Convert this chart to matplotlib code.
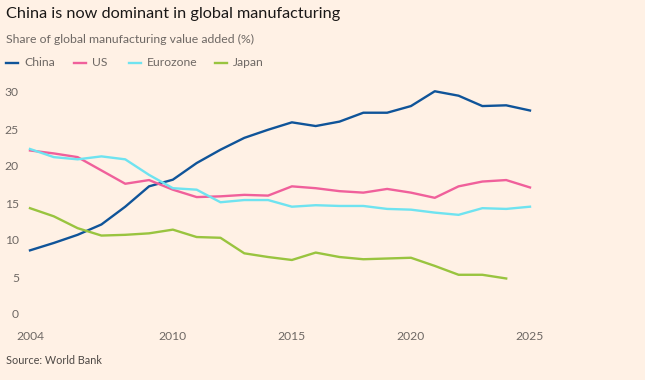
import matplotlib
matplotlib.use('Agg')
import matplotlib.pyplot as plt

years = list(range(2004, 2026))
china = [8.6, 9.6, 10.7, 12.1, 14.5, 17.25, 18.15, 20.4, 22.2, 23.8, 24.9, 25.9,
         25.4, 26.0, 27.2, 27.2, 28.1, 30.1, 29.5, 28.1, 28.2, 27.5]
us = [22.1, 21.7, 21.2, 19.4, 17.6, 18.1, 16.8, 15.8, 15.9, 16.1, 16.0, 17.25,
      17.0, 16.6, 16.4, 16.9, 16.4, 15.7, 17.25, 17.9, 18.1, 17.1]
eurozone = [22.3, 21.2, 20.9, 21.3, 20.9, 18.8, 17.0, 16.8, 15.1, 15.4, 15.4, 14.5,
            14.7, 14.6, 14.6, 14.2, 14.1, 13.7, 13.4, 14.3, 14.2, 14.5]
japan = [14.3, 13.2, 11.6, 10.6, 10.7, 10.9, 11.4, 10.4, 10.3, 8.2, 7.7, 7.3,
         8.3, 7.7, 7.4, 7.5, 7.6, 6.5, 5.3, 5.3, 4.8]

names = ['China', 'US', 'Eurozone', 'Japan']
colors = ['#0F5499', '#F0609B', '#6FE3F0', '#99C43F']
series = [china, us, eurozone, japan]

xticks = [2004, 2010, 2015, 2020, 2025]
yticks = [0, 5, 10, 15, 20, 25, 30]

bg = '#FFF1E5'
plt.rcParams['font.family'] = ['Lato', 'DejaVu Sans']

W, H = 645, 380
fig = plt.figure(figsize=(W / 100, H / 100), dpi=100, facecolor=bg)
ax = fig.add_axes([30 / W, 1 - 314 / H, 500 / W, 222 / H])
ax.set_facecolor(bg)

for name, vals, c in zip(names, series, colors):
    ax.plot(years[:len(vals)], vals, color=c, lw=1.7, clip_on=False,
            solid_joinstyle='round')

ax.set_xlim(2004, 2025)
ax.set_ylim(0, 30)
ax.set_xticks(xticks)
ax.set_yticks(yticks)
ax.tick_params(length=0, colors='#6E6864', labelsize=8.7)
ax.tick_params(axis='x', pad=12)
ax.tick_params(axis='y', pad=8)
for s in ax.spines.values():
    s.set_visible(False)

# titles
fig.text(6 / W, 1 - 14 / H, 'China is now dominant in global manufacturing',
         fontsize=11.7, color='#1A1817', va='center', ha='left')
fig.text(6 / W, 1 - 39 / H, 'Share of global manufacturing value added (%)',
         fontsize=8.8, color='#6E6864', va='center', ha='left')

# legend
leg_x = [6, 74, 129, 215]
for x0, name, c in zip(leg_x, names, colors):
    fig.add_artist(plt.Line2D([x0 / W, (x0 + 12) / W], [1 - 63 / H, 1 - 63 / H],
                              color=c, lw=1.7, transform=fig.transFigure))
    fig.text((x0 + 18) / W, 1 - 63 / H, name, fontsize=8.7, color='#6E6864',
             va='center', ha='left')

fig.text(6 / W, 1 - 360 / H, 'Source: World Bank', fontsize=7.8,
         color='#4D4845', va='center', ha='left')

fig.savefig('out.png', dpi=100, facecolor=bg)
